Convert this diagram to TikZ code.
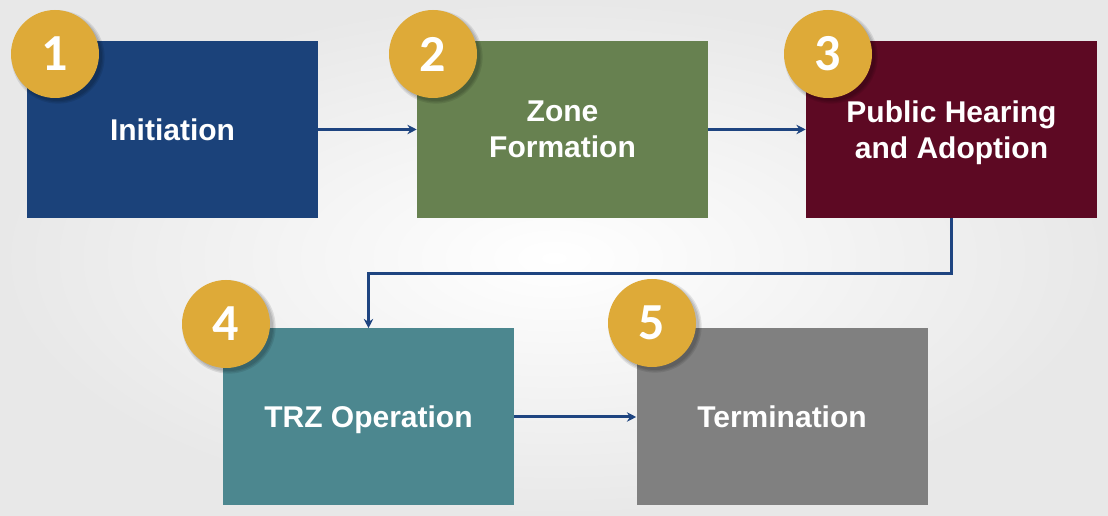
\documentclass[tikz,border=0pt]{standalone}
\usepackage{fontspec}
\setmainfont{Liberation Sans}
\newfontfamily\numfont{Carlito}
\usetikzlibrary{arrows.meta}
\definecolor{boxblue}{RGB}{27,66,122}
\definecolor{boxgreen}{RGB}{103,129,80}
\definecolor{boxred}{RGB}{93,9,35}
\definecolor{boxteal}{RGB}{76,135,143}
\definecolor{boxgray}{RGB}{128,128,128}
\definecolor{numgold}{RGB}{222,170,56}
\definecolor{linkblue}{RGB}{30,68,128}

\begin{document}
\begin{tikzpicture}[x=0.75pt, y=-0.75pt, % 坐标按像素计, y 向下
		box/.style={minimum width=218.25pt, minimum height=132.75pt,
			inner sep=0pt, text=white, align=center, text depth=0pt,
			font=\bfseries\fontsize{22.5}{27}\selectfont},
		num/.style={circle, fill=numgold, minimum size=66pt, inner sep=0pt,
			text=white, font=\numfont\bfseries\fontsize{39}{39}\selectfont},
		link/.style={draw=linkblue, line width=2.25pt,
			-{Stealth[length=7pt, width=7pt]}}]
		% 背景
		\useasboundingbox (0, 0) rectangle (1108, 516);
		\shade[inner color=white, outer color=black!9]
			(0, 0) rectangle (1108, 516);
		% 上面一行
		\node[box, fill=boxblue] (b1) at (172.5, 129.5) {Initiation};
		\node[box, fill=boxgreen] (b2) at (562.5, 129.5) {Zone\\Formation};
		\node[box, fill=boxred] (b3) at (951.5, 129.5)
			{Public Hearing\\and Adoption};
		% 下面一行
		\node[box, fill=boxteal] (b4) at (368.5, 417) {TRZ Operation};
		\node[box, fill=boxgray] (b5) at (782, 417) {Termination};
		% 连线
		\draw[link] (b1.east) -- (b2.west);
		\draw[link] (b2.east) -- (b3.west);
		\draw[link] (b3.south) -- ++(0, 55) -| (b4.north);
		\draw[link] (b4.east) -- (b5.west);
		% 编号圆 (阴影偏右下)
		\foreach \i/\cx/\cy in {1/55/54, 2/433/54, 3/828/54, 4/226/324, 5/652/323} {
			\foreach \r in {33, 34, 35}
				\fill[black, opacity=0.09] (\cx+3, \cy+3) circle (\r pt);
			\node[num] (n\i) at (\cx, \cy) {\i};
		}
	\end{tikzpicture}
\end{document}
